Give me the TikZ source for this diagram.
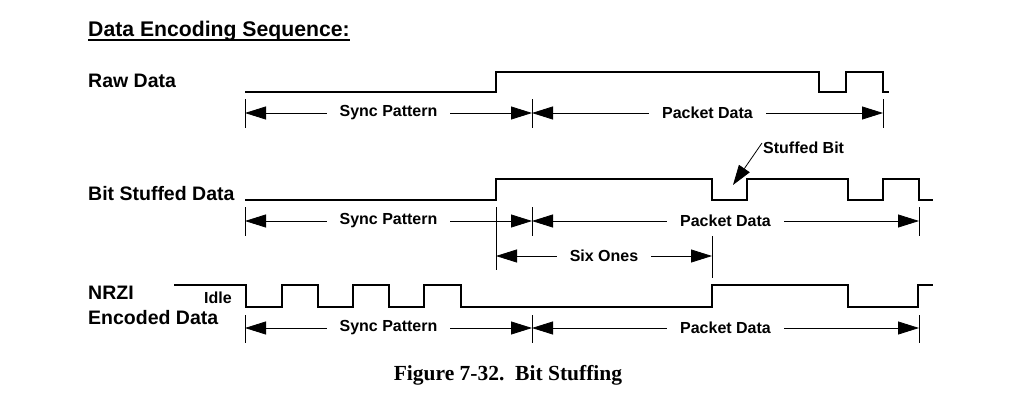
\documentclass[tikz,border=0pt]{standalone}
\usepackage{fontspec}
\setmainfont{Liberation Serif}
\setsansfont{Liberation Sans}
\usetikzlibrary{arrows.meta}

\begin{document}
\begin{tikzpicture}[x=1pt,y=-1pt,
  wave/.style={line width=1.6pt},
  dim/.style={line width=0.8pt,{Triangle[length=21pt,width=13pt]}-{Triangle[length=21pt,width=13pt]}},
  dimtick/.style={line width=0.8pt},
  lbl/.style={font=\sffamily\bfseries\fontsize{19.5}{22}\selectfont,anchor=base west,inner sep=0pt},
  dimlbl/.style={font=\sffamily\bfseries\fontsize{16}{18}\selectfont,fill=white,inner xsep=13pt,inner ysep=1pt}]
  \useasboundingbox (0,0) rectangle (1017,415);

  % heading
  \node[anchor=base west,inner sep=0pt,font=\sffamily\bfseries\fontsize{21.2}{24}\selectfont] (title) at (88,36) {Data Encoding Sequence:};
  \draw[line width=1.4pt] ([yshift=-4pt]title.base west) -- ([yshift=-4pt]title.base east);

  % raw data
  \node[lbl] (raw) at (88,87) {Raw Data};
  \draw[wave] (245,92) -| (496,72) -| (819,92) -| (846,72) -| (883,92) -- (889,92);
  \foreach \x in {245,532,883} \draw[dimtick] (\x,99) -- (\x,128);
  \coordinate (r0) at (245,113); \coordinate (r1) at (532,113); \coordinate (r2) at (883,113);
  \draw[dim] (r0) -- node[dimlbl] (rsync) {Sync Pattern} (r1);
  \draw[dim] (r1) -- node[dimlbl] (rpkt) {Packet Data} (r2);

  % bit stuffed data
  \node[lbl] (bsd) at (88,200) {Bit Stuffed Data};
  \draw[wave] (245,200) -| (496,179) -| (712,200) -| (747,179) -| (848,200) -| (883,179) -| (919,200) -- (933,200);
  \node[font=\sffamily\bfseries\fontsize{16}{18}\selectfont,anchor=west,inner sep=1pt] (stuffed) at (762,148) {Stuffed Bit};
  \coordinate (sbit) at (733,185);
  \draw[line width=0.8pt,-{Triangle[length=20pt,width=13pt]}] ([yshift=5pt]stuffed.west) -- (sbit);
  \foreach \x in {245,532,919} \draw[dimtick] (\x,207) -- (\x,236);
  \draw[dimtick] (496,207) -- (496,270);
  \draw[dimtick] (712,236) -- (712,278);
  \coordinate (s0) at (245,221); \coordinate (s1) at (532,221); \coordinate (s2) at (919,221);
  \draw[dim] (s0) -- node[dimlbl] (ssync) {Sync Pattern} (s1);
  \draw[dim] (s1) -- node[dimlbl] (spkt) {Packet Data} (s2);
  \coordinate (o0) at (496,256); \coordinate (o1) at (712,256);
  \draw[dim] (o0) -- node[dimlbl] (six) {Six Ones} (o1);

  % nrzi encoded data
  \node[lbl] (nrzi) at (88,299) {NRZI};
  \node[lbl] (enc) at (88,324) {Encoded Data};
  \node[anchor=base west,inner sep=0pt,font=\sffamily\bfseries\fontsize{16}{18}\selectfont] (idle) at (204,303) {Idle};
  \draw[wave] (174,285) -| (246,307) -| (282,285) -| (318,307) -| (353,285) -| (389,307) -| (424,285) -| (461,307)
    -| (712,285) -| (848,307) -| (918,285) -- (933,285);
  \foreach \x in {245,532,919} \draw[dimtick] (\x,315) -- (\x,343);
  \coordinate (n0) at (245,328); \coordinate (n1) at (532,328); \coordinate (n2) at (919,328);
  \draw[dim] (n0) -- node[dimlbl] (nsync) {Sync Pattern} (n1);
  \draw[dim] (n1) -- node[dimlbl] (npkt) {Packet Data} (n2);

  % caption
  \node[anchor=base,inner sep=0pt,font=\rmfamily\bfseries\fontsize{21.5}{24}\selectfont] (cap) at (508,380) {Figure 7-32.\ \ Bit Stuffing};
\end{tikzpicture}
\end{document}
